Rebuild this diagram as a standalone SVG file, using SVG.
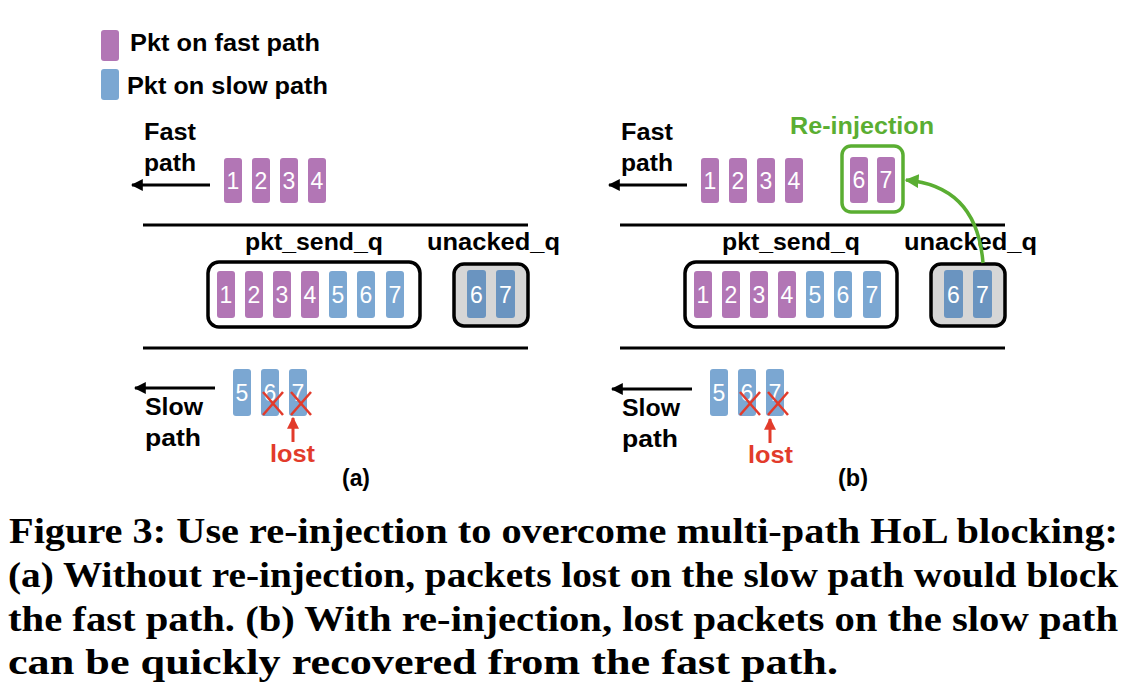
<svg xmlns="http://www.w3.org/2000/svg" width="1146" height="698" viewBox="0 0 1146 698">
<style>
.bg{fill:#ffffff}
.pf{fill:#b276b5}
.ps{fill:#7ba7d2}
.pd{fill:#6a94c0}
.num{font-family:"Liberation Sans",Arial,sans-serif;font-size:23px;fill:#ffffff;text-anchor:middle}
.lbl{font-family:"Liberation Sans",Arial,sans-serif;font-size:23px;font-weight:bold;fill:#000000}
.lost{font-family:"Liberation Sans",Arial,sans-serif;font-size:23px;font-weight:bold;fill:#e23b2b}
.green{font-family:"Liberation Sans",Arial,sans-serif;font-size:23px;font-weight:bold;fill:#5aae32}
.cap{font-family:"Liberation Serif","Times New Roman",serif;font-size:36px;font-weight:bold;fill:#000000}
.rule{stroke:#000;stroke-width:3}
.arrow{stroke:#000;stroke-width:3;fill:none;marker-end:url(#ah)}
.xmark{stroke:#e23b2b;stroke-width:2.5}
.qbox{fill:#ffffff;stroke:#000;stroke-width:3.5}
.ubox{fill:#d6d6d6;stroke:#000;stroke-width:3.5}
</style>
<defs>
<marker id="ah" viewBox="0 0 10 10" refX="9" refY="5" markerWidth="4" markerHeight="4" orient="auto" markerUnits="strokeWidth">
<path d="M0,0 L10,5 L0,10 z" fill="#000"/>
</marker>
<marker id="ahr" viewBox="0 0 10 10" refX="9" refY="5" markerWidth="4" markerHeight="4" orient="auto" markerUnits="strokeWidth">
<path d="M0,0 L10,5 L0,10 z" fill="#e23b2b"/>
</marker>
<marker id="ahg" viewBox="0 0 10 10" refX="9" refY="5" markerWidth="4" markerHeight="4" orient="auto" markerUnits="strokeWidth">
<path d="M0,0 L10,5 L0,10 z" fill="#5aae32"/>
</marker>
</defs>
<rect class="bg" x="0" y="0" width="1146" height="698"/>

<g id="legend">
<rect class="pf" x="101" y="30" width="18" height="31" rx="3"/>
<text class="lbl" x="130" y="51" textLength="190" lengthAdjust="spacingAndGlyphs">Pkt on fast path</text>
<rect class="ps" x="101" y="69" width="18" height="31" rx="3"/>
<text class="lbl" x="127" y="94" textLength="201" lengthAdjust="spacingAndGlyphs">Pkt on slow path</text>
</g>

<g id="panel-a">
<g id="a-fast-label">
<text class="lbl" x="144" y="140" textLength="52" lengthAdjust="spacingAndGlyphs">Fast</text>
<text class="lbl" x="144" y="171" textLength="52" lengthAdjust="spacingAndGlyphs">path</text>
</g>
<g id="a-fast-pkts">
<rect class="pf" x="224" y="158" width="18" height="45" rx="3"/><text class="num" x="233" y="189">1</text>
<rect class="pf" x="252" y="158" width="18" height="45" rx="3"/><text class="num" x="261" y="189">2</text>
<rect class="pf" x="280" y="158" width="18" height="45" rx="3"/><text class="num" x="289" y="189">3</text>
<rect class="pf" x="308" y="158" width="18" height="45" rx="3"/><text class="num" x="317" y="189">4</text>
</g>
<line class="rule" x1="143" y1="225" x2="528" y2="225"/>
<g id="a-sendq">
<text class="lbl" x="245" y="250" textLength="138" lengthAdjust="spacingAndGlyphs">pkt_send_q</text>
<rect class="qbox" x="208" y="262" width="212" height="65" rx="11"/>
<rect class="pf" x="217" y="271" width="18" height="47" rx="3"/><text class="num" x="226" y="303">1</text>
<rect class="pf" x="245" y="271" width="18" height="47" rx="3"/><text class="num" x="254" y="303">2</text>
<rect class="pf" x="273" y="271" width="18" height="47" rx="3"/><text class="num" x="282" y="303">3</text>
<rect class="pf" x="301" y="271" width="18" height="47" rx="3"/><text class="num" x="310" y="303">4</text>
<rect class="ps" x="329" y="271" width="18" height="47" rx="3"/><text class="num" x="338" y="303">5</text>
<rect class="ps" x="357" y="271" width="18" height="47" rx="3"/><text class="num" x="366" y="303">6</text>
<rect class="ps" x="386" y="271" width="18" height="47" rx="3"/><text class="num" x="395" y="303">7</text>
</g>
<g id="a-unackedq">
<text class="lbl" x="427" y="250" textLength="133" lengthAdjust="spacingAndGlyphs">unacked_q</text>
<rect class="ubox" x="454" y="264" width="74" height="62" rx="10"/>
<rect class="pd" x="467" y="270" width="19" height="48" rx="3"/><text class="num" x="476.5" y="303">6</text>
<rect class="pd" x="496" y="270" width="19" height="48" rx="3"/><text class="num" x="505.5" y="303">7</text>
</g>
<line class="rule" x1="143" y1="348" x2="528" y2="348"/>
<g id="a-slow-pkts">
<rect class="ps" x="233" y="369" width="18" height="47" rx="3"/><text class="num" x="242" y="401">5</text>
<rect class="ps" x="261" y="369" width="18" height="47" rx="3"/><text class="num" x="270" y="401">6</text>
<rect class="ps" x="289" y="369" width="18" height="47" rx="3"/><text class="num" x="298" y="401">7</text>
<line class="xmark" x1="263" y1="392" x2="283" y2="415"/><line class="xmark" x1="263" y1="415" x2="283" y2="392"/>
<line class="xmark" x1="291" y1="392" x2="311" y2="415"/><line class="xmark" x1="291" y1="415" x2="311" y2="392"/>
</g>
<g id="a-slow-label">
<text class="lbl" x="145" y="415" textLength="58" lengthAdjust="spacingAndGlyphs">Slow</text>
<text class="lbl" x="145" y="446" textLength="56" lengthAdjust="spacingAndGlyphs">path</text>
</g>
<g id="a-lost">
<text class="lost" x="270" y="462" textLength="45" lengthAdjust="spacingAndGlyphs">lost</text>
</g>
<text class="lbl" x="342" y="486" font-size="21" textLength="28" lengthAdjust="spacingAndGlyphs">(a)</text>
</g>

<g id="panel-b">
<g id="b-fast-label">
<text class="lbl" x="621" y="140" textLength="52" lengthAdjust="spacingAndGlyphs">Fast</text>
<text class="lbl" x="621" y="171" textLength="52" lengthAdjust="spacingAndGlyphs">path</text>
</g>
<g id="b-fast-pkts">
<rect class="pf" x="701" y="158" width="18" height="45" rx="3"/><text class="num" x="710" y="189">1</text>
<rect class="pf" x="729" y="158" width="18" height="45" rx="3"/><text class="num" x="738" y="189">2</text>
<rect class="pf" x="757" y="158" width="18" height="45" rx="3"/><text class="num" x="766" y="189">3</text>
<rect class="pf" x="785" y="158" width="18" height="45" rx="3"/><text class="num" x="794" y="189">4</text>
</g>
<g id="b-reinject">
<text class="green" x="790" y="134" textLength="144" lengthAdjust="spacingAndGlyphs">Re-injection</text>
<rect x="842" y="146" width="61" height="66" rx="9" fill="#fff" stroke="#5aae32" stroke-width="3.5"/>
<rect class="pf" x="850" y="157" width="18" height="46" rx="3"/><text class="num" x="859" y="188">6</text>
<rect class="pf" x="877" y="157" width="18" height="46" rx="3"/><text class="num" x="886" y="188">7</text>
</g>
<line class="rule" x1="620" y1="225" x2="1005" y2="225"/>
<g id="b-sendq">
<text class="lbl" x="722" y="250" textLength="138" lengthAdjust="spacingAndGlyphs">pkt_send_q</text>
<rect class="qbox" x="685" y="262" width="212" height="65" rx="11"/>
<rect class="pf" x="694" y="271" width="18" height="47" rx="3"/><text class="num" x="703" y="303">1</text>
<rect class="pf" x="722" y="271" width="18" height="47" rx="3"/><text class="num" x="731" y="303">2</text>
<rect class="pf" x="750" y="271" width="18" height="47" rx="3"/><text class="num" x="759" y="303">3</text>
<rect class="pf" x="778" y="271" width="18" height="47" rx="3"/><text class="num" x="787" y="303">4</text>
<rect class="ps" x="806" y="271" width="18" height="47" rx="3"/><text class="num" x="815" y="303">5</text>
<rect class="ps" x="834" y="271" width="18" height="47" rx="3"/><text class="num" x="843" y="303">6</text>
<rect class="ps" x="863" y="271" width="18" height="47" rx="3"/><text class="num" x="872" y="303">7</text>
</g>
<g id="b-unackedq">
<text class="lbl" x="904" y="250" textLength="133" lengthAdjust="spacingAndGlyphs">unacked_q</text>
<rect class="ubox" x="931" y="264" width="74" height="62" rx="10"/>
<rect class="pd" x="944" y="270" width="19" height="48" rx="3"/><text class="num" x="953.5" y="303">6</text>
<rect class="pd" x="973" y="270" width="19" height="48" rx="3"/><text class="num" x="982.5" y="303">7</text>
</g>
<line class="rule" x1="620" y1="348" x2="1005" y2="348"/>
<g id="b-slow-pkts">
<rect class="ps" x="710" y="369" width="18" height="47" rx="3"/><text class="num" x="719" y="401">5</text>
<rect class="ps" x="738" y="369" width="18" height="47" rx="3"/><text class="num" x="747" y="401">6</text>
<rect class="ps" x="766" y="369" width="18" height="47" rx="3"/><text class="num" x="775" y="401">7</text>
<line class="xmark" x1="740" y1="392" x2="760" y2="415"/><line class="xmark" x1="740" y1="415" x2="760" y2="392"/>
<line class="xmark" x1="768" y1="392" x2="788" y2="415"/><line class="xmark" x1="768" y1="415" x2="788" y2="392"/>
</g>
<g id="b-slow-label">
<text class="lbl" x="622" y="416" textLength="58" lengthAdjust="spacingAndGlyphs">Slow</text>
<text class="lbl" x="622" y="447" textLength="56" lengthAdjust="spacingAndGlyphs">path</text>
</g>
<g id="b-lost">
<text class="lost" x="748" y="463" textLength="45" lengthAdjust="spacingAndGlyphs">lost</text>
</g>
<text class="lbl" x="838" y="486" font-size="21" textLength="30" lengthAdjust="spacingAndGlyphs">(b)</text>
</g>

<g id="connectors">
<line class="arrow" x1="210" y1="185" x2="132" y2="185"/>
<line class="arrow" x1="215" y1="388" x2="135" y2="388"/>
<line stroke="#e23b2b" stroke-width="3" marker-end="url(#ahr)" x1="293" y1="442" x2="293" y2="418"/>
<line class="arrow" x1="687" y1="185" x2="609" y2="185"/>
<line class="arrow" x1="692" y1="389" x2="612" y2="389"/>
<line stroke="#e23b2b" stroke-width="3" marker-end="url(#ahr)" x1="770" y1="443" x2="770" y2="419"/>
<path d="M983 263 Q977 186 906 180" fill="none" stroke="#5aae32" stroke-width="3.5" marker-end="url(#ahg)"/>
</g>

<g id="caption">
<text class="cap" x="9" y="543" textLength="1109" lengthAdjust="spacingAndGlyphs">Figure 3: Use re-injection to overcome multi-path HoL blocking:</text>
<text class="cap" x="8" y="587" textLength="1110" lengthAdjust="spacingAndGlyphs">(a) Without re-injection, packets lost on the slow path would block</text>
<text class="cap" x="8" y="631" textLength="1110" lengthAdjust="spacingAndGlyphs">the fast path. (b) With re-injection, lost packets on the slow path</text>
<text class="cap" x="8" y="674" textLength="830" lengthAdjust="spacingAndGlyphs">can be quickly recovered from the fast path.</text>
</g>
</svg>
